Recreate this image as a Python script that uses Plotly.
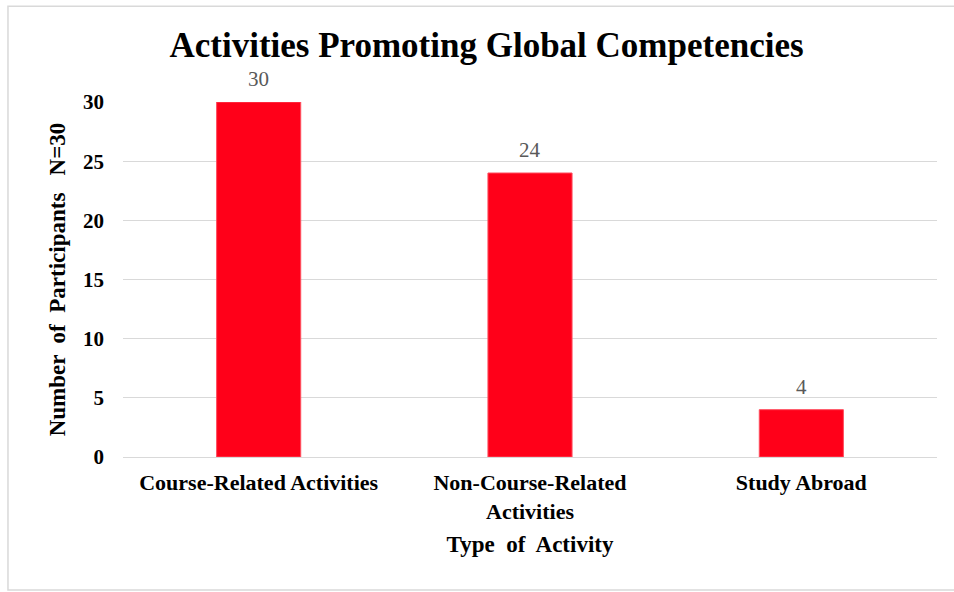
import plotly.graph_objects as go

categories = ["Course-Related Activities", "Non-Course-Related<br>Activities", "Study Abroad"]
participants = [30, 24, 4]
y_ticks = [0, 5, 10, 15, 20, 25, 30]

serif = "Liberation Serif, Times New Roman, serif"

fig = go.Figure(
    go.Bar(
        x=categories,
        y=participants,
        marker=dict(color="#ff0019", line=dict(color="#ff4d5e", width=1)),
        width=0.31,
        cliponaxis=False,
    )
)

# value labels above each bar
for cat, val in zip(categories, participants):
    fig.add_annotation(
        x=cat, y=val, text=str(val), showarrow=False,
        yanchor="bottom", yshift=9,
        font=dict(family=serif, size=21, color="#595959"),
    )

fig.update_layout(
    width=954,
    height=592,
    margin=dict(l=123, r=17, t=102, b=135),
    paper_bgcolor="white",
    plot_bgcolor="white",
    showlegend=False,
    title=dict(
        text="<b>Activities Promoting Global Competencies</b>",
        font=dict(family=serif, size=35, color="black"),
        x=0.51,
        xanchor="center",
        y=0.925,
        yanchor="middle",
    ),
    xaxis=dict(
        title=dict(text="<b>Type  of  Activity</b>", font=dict(family=serif, size=23, color="black"), standoff=12),
        tickfont=dict(family=serif, size=22, color="black", weight="bold"),
        showline=True,
        linecolor="#d9d9d9",
        linewidth=1,
        ticks="",
        ticklabelstandoff=6,
    ),
    yaxis=dict(
        title=dict(text="<b>Number  of  Participants   N=30</b>", font=dict(family=serif, size=23, color="black"), standoff=10),
        range=[0, 30],
        tickvals=y_ticks,
        tickfont=dict(family=serif, size=21, color="black", weight="bold"),
        showgrid=True,
        gridcolor="#d9d9d9",
        gridwidth=1,
        zeroline=False,
        ticks="",
        ticklabelstandoff=18,
    ),
    shapes=[
        dict(type="rect", xref="paper", yref="paper", x0=-0.1413, x1=1.03, y0=-0.3746, y1=1.270,
             line=dict(color="#d9d9d9", width=1.5), fillcolor="rgba(0,0,0,0)"),
    ],
)

fig.write_html("out.html")
